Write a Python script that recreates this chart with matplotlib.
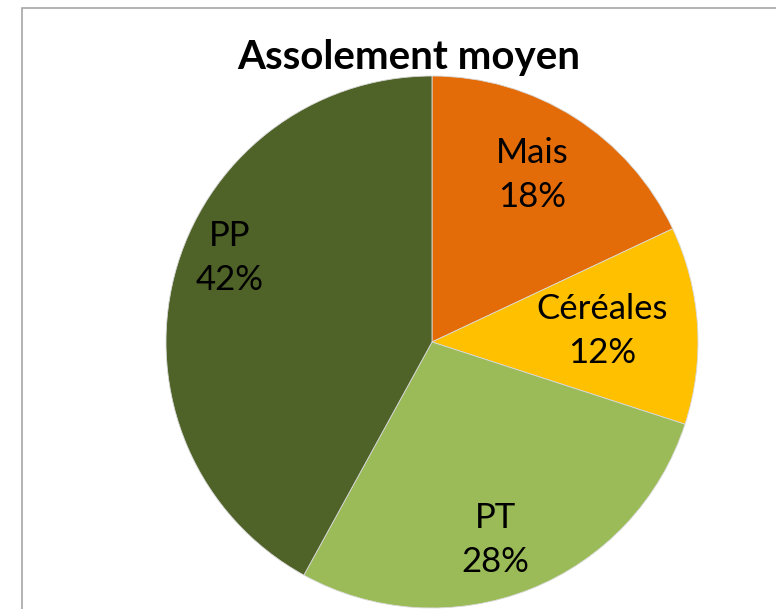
"""Assolement moyen — pie chart."""
import matplotlib
matplotlib.use("Agg")
import matplotlib.pyplot as plt
from matplotlib.patches import Rectangle

crops = ["Mais", "Céréales", "PT", "PP"]
shares = [18, 12, 28, 42]
colors = ["#E36C09", "#FFC000", "#9BBB59", "#4F6228"]

W, H = 776, 609
fig = plt.figure(figsize=(W / 100, H / 100), dpi=100)
ax = fig.add_axes([0, 0, 1, 1])

cx, cy, r = 432, H - 342, 266
ax.pie(shares, colors=colors, startangle=90, counterclock=False,
       center=(cx, cy), radius=r,
       wedgeprops=dict(edgecolor="#d9d9d9", linewidth=0.6))
ax.set_xlim(0, W)
ax.set_ylim(0, H)
ax.set_aspect("equal")
ax.axis("off")

# chart border (only left and top visible in the crop)
ax.add_patch(Rectangle((22, -20), 800, H - 8 + 20, fill=False,
                       edgecolor="#a6a6a6", linewidth=1.2, zorder=0))

lbl_pos = [(532, 175), (602, 331), (495, 540), (230, 258)]
for name, v, (x, y) in zip(crops, shares, lbl_pos):
    ax.text(x, H - y, f"{name}\n{v}%", ha="center", va="center",
            fontsize=25, family="Lato", linespacing=1.45, color="black")

ax.text(409, H - 57, "Assolement moyen", ha="center", va="center",
        fontsize=29, family="Lato", fontweight="bold", color="black")

fig.savefig("out.png", dpi=100)
